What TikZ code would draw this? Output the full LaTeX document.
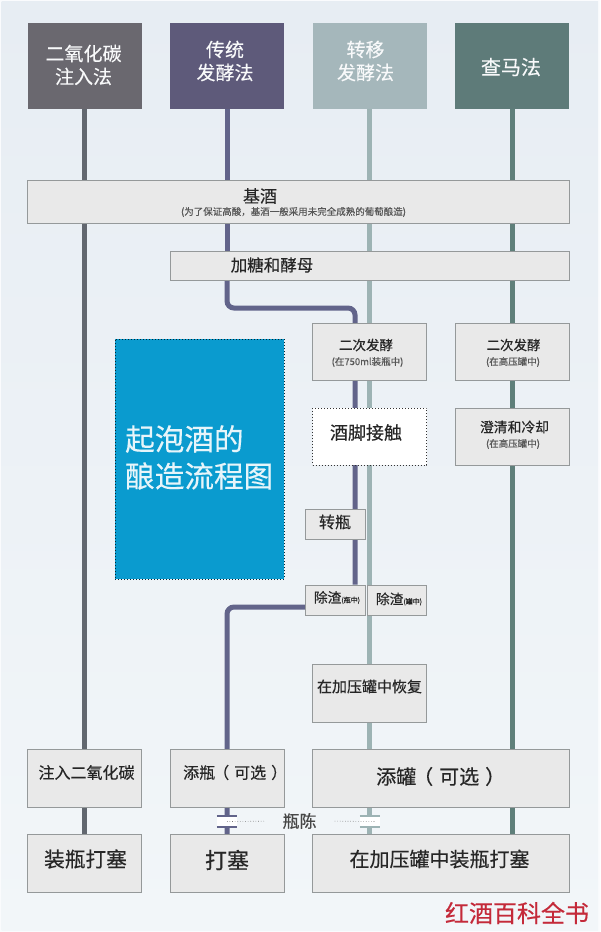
\documentclass[tikz,border=0pt]{standalone}
\usepackage{fontspec}
\setmainfont[FakeBold=0.35]{Noto Sans CJK SC}
\usepackage{tikz}
\usetikzlibrary{calc,positioning}

\definecolor{pagetop}{HTML}{E7EDF3}
\definecolor{pagebot}{HTML}{F2F6F9}
\definecolor{headco}{HTML}{6A686F}
\definecolor{headtrad}{HTML}{5E5A7A}
\definecolor{headtrans}{HTML}{A5B7BB}
\definecolor{headchar}{HTML}{5E7B79}
\definecolor{lineco}{HTML}{62676F}
\definecolor{linetrad}{HTML}{62648A}
\definecolor{linetrans}{HTML}{9DB3B4}
\definecolor{linechar}{HTML}{5F7F7A}
\definecolor{boxfill}{HTML}{E9E9E9}
\definecolor{boxedge}{HTML}{95999A}
\definecolor{titleblue}{HTML}{0A9BCF}
\definecolor{markred}{HTML}{C42A3A}
\newcommand{\pxfont}[1]{\fontsize{#1}{#1}\selectfont}
\pgfdeclarelayer{page}
\pgfdeclarelayer{lines}
\pgfsetlayers{page,lines,main}

\begin{document}
\begin{tikzpicture}[
  x=1pt,y=-1pt,
  headbox/.style={minimum width=114pt,minimum height=86pt,inner sep=0pt},
  procbox/.style={draw=boxedge,fill=boxfill,line width=0.9pt,inner sep=0pt},
  cellbox/.style={procbox,minimum width=114pt,minimum height=58pt},
  headtext/.style={align=center,text=white!92!headtrans,font=\pxfont{19}},
  boxtext/.style={inner sep=0pt,text=black!85,font=\pxfont{#1}},
  subtext/.style={inner sep=0pt,text=black!66,font=\pxfont{9.5}},
  method/.style={line width=5pt,draw=#1},
  gapbox/.style={fill=white,minimum width=20pt,minimum height=11pt,inner sep=0pt},
  gapbar/.style={line width=1.6pt,draw=#1},
  agedots/.style={dotted,line width=0.6pt,black!55}
]
  \useasboundingbox (0,0) rectangle (600,932);

  \node[headbox,fill=headco] (hco) at (84.5,66) {};
  \node[headbox,fill=headtrad] (htrad) at (227,66) {};
  \node[headbox,fill=headtrans] (htrans) at (369.5,66) {};
  \node[headbox,fill=headchar] (hchar) at (512,66) {};
  \node[headtext] (tco) at (83.5,65) {二氧化碳\\[4pt]注入法};
  \node[headtext] (ttrad) at (225,61) {传统\\[4pt]发酵法};
  \node[headtext] (ttrans) at (365.5,61) {转移\\[4pt]发酵法};
  \node[headtext,font=\pxfont{20}] (tchar) at (511,67) {查马法};

  \node[procbox,minimum width=542pt,minimum height=43pt] (base) at (298.5,201.5) {};
  \node[boxtext=17] (tbase) at (260,196) {基酒};
  \node[subtext] (tbasesub) at (293.5,212) {(为了保证高酸，基酒一般采用未完全成熟的葡萄酿造)};
  \node[procbox,minimum width=399pt,minimum height=29pt] (sugar) at (369.5,265.5) {};
  \node[boxtext=16.5] (tsugar) at (272,265) {加糖和酵母};

  \node[cellbox,minimum height=57pt] (ferm) at (369.5,351.5) {};
  \node[boxtext=13.5] (tferm) at (366,345) {二次发酵};
  \node[subtext] (tfermsub) at (367.5,362) {(在750ml装瓶中)};
  \node[cellbox,minimum height=57pt] (fermtank) at (512,351.5) {};
  \node[boxtext=13.5] (tfermtank) at (513.5,345) {二次发酵};
  \node[subtext] (tfermtanksub) at (513,362) {(在高压罐中)};
  \node[draw=black!80,fill=white,dotted,line width=1pt,minimum width=114pt,minimum height=57pt,inner sep=0pt] (lees) at (369.5,436.5) {};
  \node[boxtext=18] (tlees) at (366,432.5) {酒脚接触};
  \node[cellbox,minimum height=57pt] (clear) at (512,436.5) {};
  \node[boxtext=13.8] (tclear) at (514.5,427) {澄清和冷却};
  \node[subtext] (tclearsub) at (513,444) {(在高压罐中)};

  \node[fill=titleblue,draw=black!75!titleblue,dotted,line width=1pt,minimum width=169pt,minimum height=240pt,inner sep=0pt] (title) at (199.5,459) {};
  \node[inner sep=0pt,anchor=west,text=white!90!titleblue,font=\pxfont{29.6}] (ttitlea) at (125,439) {起泡酒的};
  \node[inner sep=0pt,anchor=west,text=white!90!titleblue,font=\pxfont{29.6}] (ttitleb) at (125,476) {酿造流程图};

  \node[procbox,minimum width=60pt,minimum height=30pt] (riddle) at (335,524) {};
  \node[boxtext=16] (triddle) at (335,522) {转瓶};
  \node[procbox,minimum width=60pt,minimum height=30pt] (disg) at (335,600) {};
  \node[boxtext=13.7] (tdisg) at (337,597.5) {除渣{\pxfont{7}(瓶中)}};
  \node[procbox,minimum width=59pt,minimum height=30pt] (disgtank) at (396.5,600) {};
  \node[boxtext=13.7] (tdisgtank) at (399,599) {除渣{\pxfont{7}(罐中)}};
  \node[cellbox] (recover) at (369.5,693) {};
  \node[boxtext=15] (trecover) at (369.5,686.5) {在加压罐中恢复};

  \node[cellbox] (inject) at (84.5,778) {};
  \node[boxtext=16] (tinject) at (86.5,772.5) {注入二氧化碳};
  \node[cellbox] (dosebot) at (227,778) {};
  \node[boxtext=16,anchor=west] (tdosebot) at (183,772.5) {添瓶\kern-2pt（\kern5pt可选\kern5pt）};
  \node[procbox,minimum width=257pt,minimum height=58pt] (dosetank) at (441,778) {};
  \node[boxtext=20,anchor=west] (tdosetank) at (376,776.5) {添罐\kern-3pt（\kern6pt可选\kern6pt）};

  \node[cellbox] (corkco) at (84.5,863.5) {};
  \node[boxtext=20.7] (tcorkco) at (85.5,859) {装瓶打塞};
  \node[cellbox] (corktrad) at (227,863.5) {};
  \node[boxtext=22] (tcorktrad) at (227,860) {打塞};
  \node[procbox,minimum width=257pt,minimum height=58pt] (corktank) at (441,863.5) {};
  \node[boxtext=20] (tcorktank) at (439.5,859) {在加压罐中装瓶打塞};

  \coordinate (bendtop) at (355,308);
  \coordinate (bendout) at (305,607);
  \begin{pgfonlayer}{lines}
    \draw[method=lineco] (hco.south) -- (corkco.north);
    \draw[method=linetrad] (htrad.south) -- (sugar.north -| htrad);
    \draw[method=linetrad,rounded corners=7pt] (sugar.south -| htrad) |- (bendtop) -- (disg.north -| bendtop);
    \draw[method=linetrad,rounded corners=7pt] (bendout) -| (corktrad.north);
    \draw[method=linetrans] (htrans.south) -- (corktank.north -| htrans);
    \draw[method=linechar] (hchar.south) -- (corktank.north -| hchar);
  \end{pgfonlayer}

  \node[gapbox] (gaptrad) at (227,821.5) {};
  \draw[gapbar=linetrad] (gaptrad.north west) -- (gaptrad.north east);
  \draw[gapbar=linetrad] (gaptrad.south west) -- (gaptrad.south east);
  \node[gapbox] (gaptrans) at (370,821.5) {};
  \draw[gapbar=linetrans] (gaptrans.north west) -- (gaptrans.north east);
  \draw[gapbar=linetrans] (gaptrans.south west) -- (gaptrans.south east);
  \node[boxtext=17,text=black!72] (aging) at (299.5,821) {瓶陈};
  \draw[agedots,shorten >=18pt] (gaptrad.center) -- (aging.west);
  \draw[agedots,shorten <=18pt,shorten >=5pt] (aging.east) -- (gaptrans.east);

  \node[inner sep=0pt,text=markred,font=\pxfont{24}] (mark) at (517,913) {红酒百科全书};

  \begin{pgfonlayer}{page}
    \fill[white!60!pagebot] (0,0) rectangle (600,932);
    \shade[top color=pagetop,bottom color=pagebot] (1.5,1) rectangle (598,930);
  \end{pgfonlayer}
\end{tikzpicture}
\end{document}
